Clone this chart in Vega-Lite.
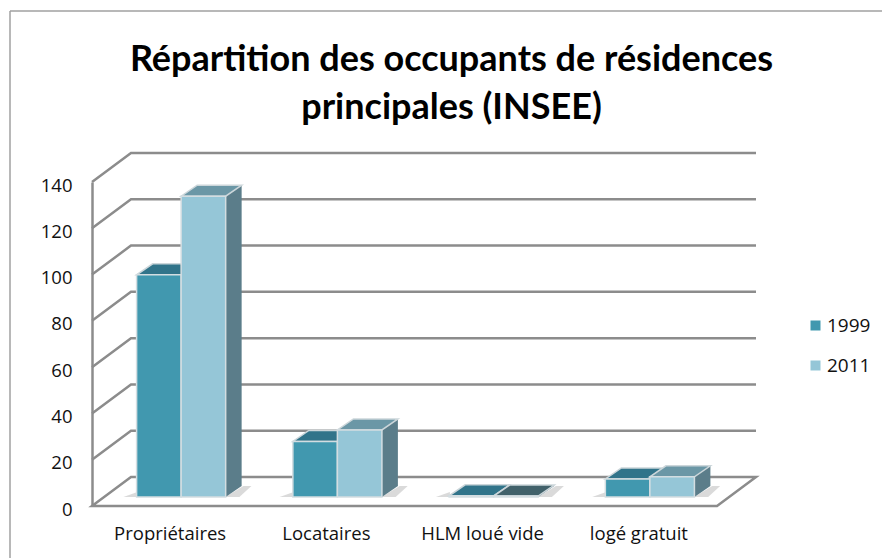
{
"$schema":"https://vega.github.io/schema/vega-lite/v6.json",
"width":625,"height":324,
"autosize":{"type":"none"},
"padding":{"left":92,"top":182,"right":165,"bottom":52},
"background":"#ffffff",
"title":{"text":["Répartition des occupants de résidences","principales (INSEE)"],"font":"Lato","fontWeight":"bold","fontSize":36,"lineHeight":48,"color":"#000000","anchor":"middle","dx":47,"dy":145,"baseline":"alphabetic","offset":0},
"config":{"view":{"stroke":null},"axis":{"labelFont":"Open Sans","labelColor":"#111111","grid":false,"ticks":false}},
"data":{"values":[
{"cat":"Propriétaires","year":"1999","value":96},
{"cat":"Propriétaires","year":"2011","value":130},
{"cat":"Locataires","year":"1999","value":24},
{"cat":"Locataires","year":"2011","value":29},
{"cat":"HLM loué vide","year":"1999","value":0.5},
{"cat":"HLM loué vide","year":"2011","value":0.4},
{"cat":"logé gratuit","year":"1999","value":7.8},
{"cat":"logé gratuit","year":"2011","value":8.7}
]},
"encoding":{
 "y":{"field":"value","type":"quantitative","scale":{"domain":[0,140]},"title":null,"axis":{"values":[0,20,40,60,80,100,120,140],"title":null,"labelFontSize":18.5,"labelPadding":20,"labelBaseline":"middle","labelOffset":3,"domain":true,"domainColor":"#8c8c8c","domainWidth":2.5}}
},
"layer":[
{"data":{"values":[{"frame":1}]},"mark":{"type":"rule","color":"#a0a0a0","strokeWidth":1.5},"encoding":{"x":{"value":-82},"y":{"value":-171},"y2":{"value":376}}},
{"data":{"values":[{"frame":1}]},"mark":{"type":"rule","color":"#a0a0a0","strokeWidth":1.5},"encoding":{"y":{"value":-171},"x":{"value":-82},"x2":{"value":790}}},
{"data":{"values":[{"v":0}]},
 "mark":{"type":"point","filled":true,"size":4,"opacity":1,"fill":"#ffffff","stroke":"#8c8c8c","strokeWidth":2.5,"shape":"M-312.5,0L-273.5,-29L351.5,-29L312.5,0Z"},
 "encoding":{"y":{"field":"v","type":"quantitative","title":null}}},
{"data":{"values":[{"v":20},{"v":40},{"v":60},{"v":80},{"v":100},{"v":120},{"v":140}]},
 "mark":{"type":"point","filled":false,"size":4,"opacity":1,"stroke":"#8c8c8c","strokeWidth":2.5,"shape":"M-312.5,0L-273.5,-29L351.5,-29"},
 "encoding":{"y":{"field":"v","type":"quantitative","title":null}}},
{"transform":[{"filter":"datum.year=='2011'"}],
 "mark":{"type":"point","filled":true,"size":4,"opacity":0.22,"color":"#555555","strokeWidth":0,"shape":"M-66,-9L-80,-9L-66,-14ZM22,-9L40,-20L48,-20L36,-9Z"},
 "encoding":{"x":{"field":"cat","type":"nominal","sort":null},"xOffset":{"field":"year","type":"nominal"},"y":{"datum":0,"type":"quantitative","title":null}}},
{"transform":[{"filter":"datum.year=='2011'"}],
 "mark":{"type":"bar","width":16,"xOffset":52.5,"yOffset":-20,"color":"#5b7d8a"},
 "encoding":{"x":{"field":"cat","type":"nominal","sort":null}}},
{"mark":{"type":"point","filled":true,"size":4,"opacity":1,"strokeWidth":0,"shape":"M22.25,-9L38.25,-20L22.25,-20Z"},
 "encoding":{"x":{"field":"cat","type":"nominal","sort":null},"xOffset":{"field":"year","type":"nominal"},"y":{"datum":0,"type":"quantitative","title":null},
 "color":{"condition":{"test":"datum.year=='1999'","value":"#4c7480"},"value":"#5b7d8a"}}},
{"mark":{"type":"point","filled":true,"size":4,"opacity":1,"stroke":"#ccd6da","strokeWidth":1.5,"shape":"M-22.25,-9L22.25,-9L38.25,-20L-6.25,-20Z"},
 "encoding":{"x":{"field":"cat","type":"nominal","sort":null},"xOffset":{"field":"year","type":"nominal"},
 "color":{"condition":[{"test":"datum.year=='2011'&&datum.cat=='HLM loué vide'","value":"#41616a"},{"test":"datum.year=='1999'","value":"#31748a"}],"value":"#6b97a6"}}},
{"mark":{"type":"bar","yOffset":-9,"stroke":"#d3dde1","strokeWidth":1.5},
 "encoding":{"x":{"field":"cat","type":"nominal","sort":null,"title":null,"scale":{"paddingInner":0.43,"paddingOuter":0.215,"align":0.664},"axis":{"domain":false,"labelAngle":0,"labelAlign":"center","labelBaseline":"top","labelFontSize":18.5,"labelPadding":18,"labelOffset":-11,"title":null}},
 "xOffset":{"field":"year","type":"nominal"},
 "color":{"field":"year","type":"nominal","scale":{"domain":["1999","2011"],"range":["#4198af","#95c6d7"]},
 "legend":{"orient":"none","legendX":714,"legendY":134,"title":null,"symbolType":"square","symbolSize":100,"symbolStrokeWidth":0,"labelFont":"Open Sans","labelFontSize":19,"labelColor":"#111111","labelOffset":2,"rowPadding":20,"symbolOpacity":1}}}}
]
}
